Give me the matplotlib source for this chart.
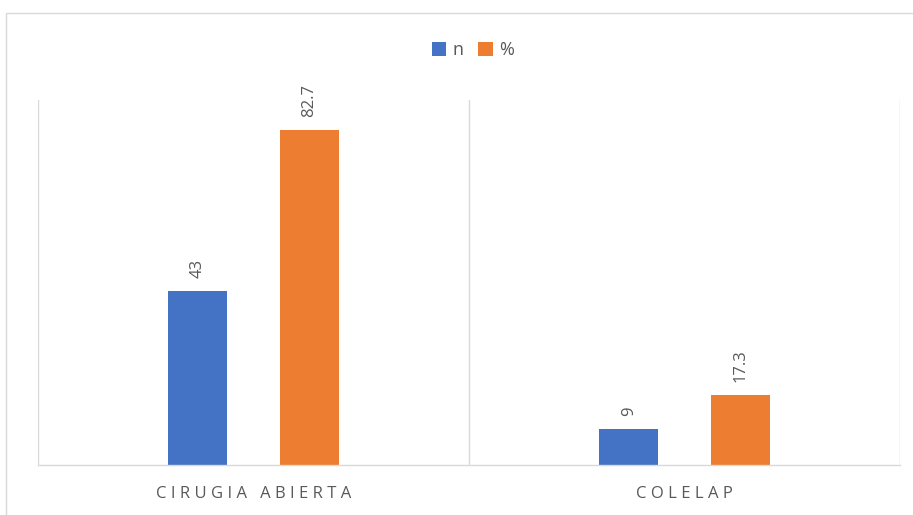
import numpy as np
import matplotlib as mpl
mpl.use('Agg')
import matplotlib.pyplot as plt
from matplotlib.patches import Rectangle

categorias = ['CIRUGIA ABIERTA', 'COLELAP']
n_vals = [43, 9]
pct_vals = [82.7, 17.3]
series = ['n', '%']

azul = '#4472C4'
naranja = '#ED7D31'
gris = '#595959'

plt.rcParams['font.family'] = ['Open Sans', 'DejaVu Sans']

fig = plt.figure(figsize=(9.13, 5.15), dpi=100)
ax = fig.add_axes([38/913, 50/515, 862/913, 365/515])

x = np.arange(len(categorias))
w = 0.137
off = 0.129
b1 = ax.bar(x - off, n_vals, w, color=azul, label=series[0])
b2 = ax.bar(x + off, pct_vals, w, color=naranja, label=series[1])

# etiquetas de valor giradas
for bars, vals in ((b1, n_vals), (b2, pct_vals)):
    for r, v in zip(bars, vals):
        ax.annotate(f'{v:g}', (r.get_x() + r.get_width()/2, r.get_height()),
                    xytext=(0, 9), textcoords='offset points', rotation=90,
                    ha='center', va='bottom', fontsize=12, color=gris)

ax.set_xlim(-0.5, 1.5)
ax.set_ylim(0, 90)
ax.set_yticks([])

# letras espaciadas en el eje de categorias
def espaciar(s):
    return ' '.join(s)

ax.set_xticks(x)
ax.set_xticklabels([espaciar(c) for c in categorias], fontsize=12, color=gris)
ax.tick_params(axis='x', length=0, pad=15)
ax.set_xticks([-0.5, 0.5, 1.5], minor=True)
ax.tick_params(axis='x', which='minor', length=0)
ax.grid(axis='x', which='minor', color='#D9D9D9', linewidth=1)
ax.set_axisbelow(True)

for s in ['left', 'right', 'top']:
    ax.spines[s].set_visible(False)
ax.spines['bottom'].set_color('#D9D9D9')
ax.spines['bottom'].set_linewidth(1)

fig.legend(handles=[b1, b2], labels=series, loc='center', bbox_to_anchor=(0.518, 1 - 50/515),
           ncol=2, frameon=False, fontsize=13, handlelength=0.8, handleheight=0.8,
           handletextpad=0.35, columnspacing=0.8, labelcolor=gris)

# marco del grafico
fig.patches.append(Rectangle((6/913, -0.1), 1.2, 0.1 + 1 - 13/515, transform=fig.transFigure,
                             fill=False, edgecolor='#D9D9D9', linewidth=1))

fig.savefig('out.png', dpi=100)
